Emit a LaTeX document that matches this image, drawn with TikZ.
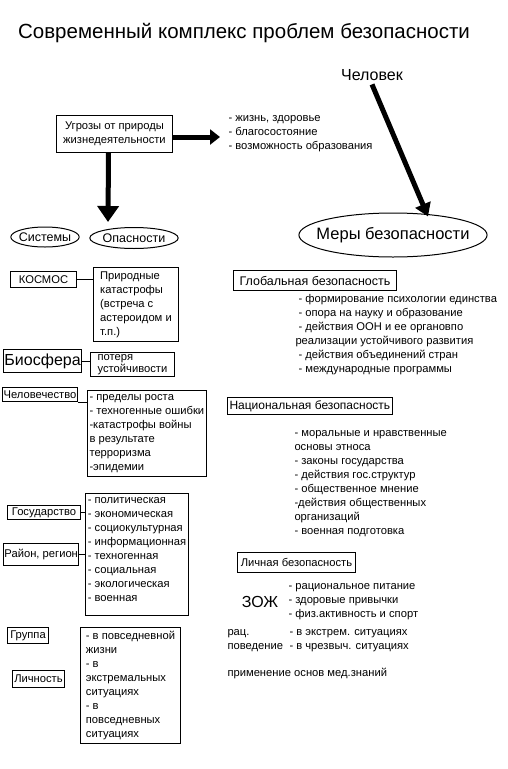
\documentclass[tikz,border=0pt]{standalone}
\usepackage{fontspec}
\setmainfont{Liberation Sans}
\usetikzlibrary{arrows.meta,shapes.geometric}

\begin{document}
\begin{tikzpicture}[x=1pt,y=-1pt,line width=1pt,
  every path/.style={>={Triangle[length=13pt,width=16pt]}},
  sm/.style={font=\fontsize{11.2}{14}\selectfont},
  box/.style={draw,rectangle,inner sep=2pt,align=left,anchor=north west,sm},
  oval/.style={draw,ellipse,inner sep=0pt},
  list/.style={align=left,anchor=west,inner sep=0pt,sm},
  fat/.style={->,line width=5pt}]
\useasboundingbox (0,0) rectangle (507,769);
\node[font=\fontsize{20.5}{24}\selectfont] (title) at (244,33) {Современный комплекс проблем безопасности};
\node[font=\fontsize{16}{18}\selectfont] (chelovek) at (372,75) {Человек};
\node[box,align=center,minimum width=116,minimum height=37] (threat) at (56,115) {Угрозы от природы\\жизнедеятельности};
\node[list] (life) at (228,134) {- жизнь, здоровье\\- благосостояние\\- возможность образования};
\node[oval,font=\fontsize{12.5}{14}\selectfont,minimum width=66,minimum height=20,inner xsep=-2pt] (sist) at (45,237) {Системы};
\node[oval,font=\fontsize{12.5}{14}\selectfont,minimum width=84,minimum height=21] (opas) at (134,238) {Опасности};
\node[oval,font=\fontsize{16.5}{18}\selectfont,minimum width=177,minimum height=44,inner xsep=-10pt] (mery) at (393,235) {Меры безопасности};

\node[box,minimum width=66,minimum height=16] (kosmos) at (10,271) {КОСМОС};
\node[box,minimum width=85,minimum height=74] (prirod) at (93,267) {Природные\\катастрофы\\(встреча с\\астероидом и\\т.п.)};
\node[box,font=\fontsize{16}{18}\selectfont,inner sep=1pt,minimum width=77,minimum height=23] (bio) at (3,349) {Биосфера};
\node[box,font=\fontsize{11.2}{12.5}\selectfont,inner ysep=0pt,minimum width=84,minimum height=24] (poterya) at (90,352) {потеря\\устойчивости};
\node[box,inner sep=1pt,minimum width=75,minimum height=14] (chel) at (2,387) {Человечество};
\node[box,minimum width=117,minimum height=86] (chelList) at (87,390) {- пределы роста\\- техногенные ошибки\\-катастрофы войны\\в результате\\терроризма\\-эпидемии};
\node[box,inner sep=1pt,minimum width=73,minimum height=14] (gos) at (7,505) {Государство};
\node[box,inner sep=1pt,minimum width=73,minimum height=22] (rayon) at (3,543) {Район, регион};
\node[box,inner ysep=3.5pt,minimum width=103,text depth=11pt] (opasList) at (85,493) {- политическая\\- экономическая\\- социокультурная\\- информационная\\- техногенная\\- социальная\\- экологическая\\- военная};
\node[box,inner sep=1pt,minimum width=41,minimum height=16] (gruppa) at (7,627) {Группа};
\node[box,inner sep=1pt,minimum width=52,minimum height=17] (lichnost) at (12,670) {Личность};
\node[box,minimum width=100,minimum height=116] (lichList) at (80,627) {- в повседневной\\жизни\\- в\\экстремальных\\ситуациях\\- в\\повседневных\\ситуациях};

\node[box,font=\fontsize{12.5}{14}\selectfont,minimum width=163,minimum height=20] (glob) at (233,270) {Глобальная безопасность};
\node[list] (globList) at (298,335) {- формирование психологии единства\\- опора на науку и образование\\- действия ООН и ее органовпо\\\hspace*{-3pt}реализации устойчивого развития\\- действия объединений стран\\- международные программы};
\node[box,font=\fontsize{12}{14}\selectfont,minimum width=161,minimum height=17] (nat) at (227,397) {Национальная безопасность};
\node[list] (natList) at (294,484) {- моральные и нравственные\\основы этноса\\- законы государства\\- действия гос.структур\\- общественное мнение\\-действия общественных\\организаций\\- военная подготовка};
\node[box,minimum width=118,minimum height=20] (lich) at (237,552) {Личная безопасность};
\node[font=\fontsize{16}{18}\selectfont] (zozh) at (260,602) {ЗОЖ};
\node[list] (zozhList) at (288,602) {- рациональное питание\\- здоровые привычки\\- физ.активность и спорт};
\node[list] (rac) at (227,641) {рац.\\поведение};
\node[list] (racList) at (289,641) {- в экстрем. ситуациях\\- в чрезвыч. ситуациях};
\node[list] (med) at (227,673) {применение основ мед.знаний};

\draw (kosmos.east) -- (kosmos.east -| prirod.west);
\draw (bio.east) -- (bio.east -| poterya.west);
\draw (chel.south east) -- (chel.south east -| chelList.west);
\draw (gos.east) -- (gos.east -| opasList.west);
\draw (rayon.east) -- (rayon.east -| opasList.west);
\draw[fat,>={Triangle[length=16pt,width=21pt]}] ([xshift=-6pt]threat.south) -- ([xshift=-26pt,yshift=5pt]opas.north);
\draw[fat,>={Triangle[length=10pt,width=15pt]}] ([yshift=-3pt]threat.east) -- ([xshift=-8pt,yshift=-3pt]life.west);
\draw[fat] (chelovek.south) -- ([xshift=35pt,yshift=-4pt]mery.north);
\end{tikzpicture}
\end{document}
